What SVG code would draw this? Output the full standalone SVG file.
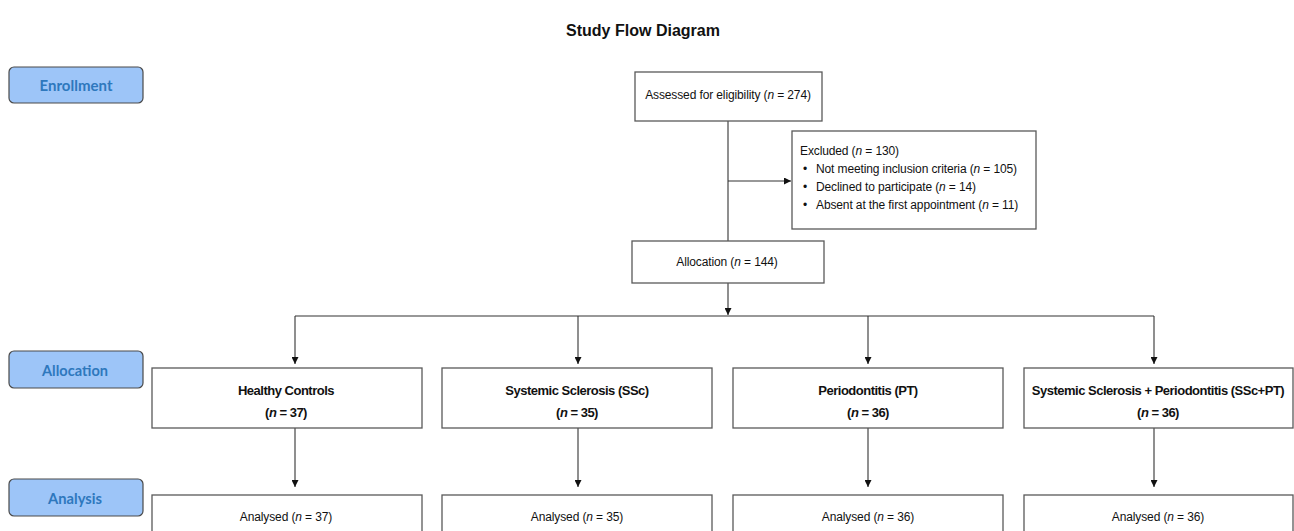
<svg xmlns="http://www.w3.org/2000/svg" width="1294" height="531" viewBox="0 0 1294 531">
<defs>
<marker id="ah" viewBox="0 0 10 10" refX="10" refY="5" markerWidth="7" markerHeight="7" markerUnits="userSpaceOnUse" orient="auto">
<path d="M0,0 L10,5 L0,10 z" fill="#111"/>
</marker>
</defs>
<style>
.box{fill:#fff;stroke:#595959;stroke-width:1.3}
.lbl{fill:#9dc5f8;stroke:#4a4a4a;stroke-width:1.2}
.lt{font-family:Lato,"Liberation Sans",sans-serif;font-weight:bold;font-size:16px;fill:#2e78bd;text-anchor:middle}
.t{font-family:"Liberation Sans",Arial,sans-serif;font-size:12px;letter-spacing:-0.12px;fill:#111}
.c{text-anchor:middle}
.b{font-weight:bold;font-size:13px;letter-spacing:-0.5px}
.title{font-family:"Liberation Sans",Arial,sans-serif;font-size:16px;font-weight:bold;fill:#111;text-anchor:middle}
.ln{fill:none;stroke:#333;stroke-width:1.1}
</style>
<text class="title" x="643" y="36" textLength="154" lengthAdjust="spacingAndGlyphs">Study Flow Diagram</text>

<g id="label-enrollment">
<rect class="lbl" x="9" y="67" width="134" height="36" rx="5"/>
<text class="lt" x="76" y="91" textLength="73" lengthAdjust="spacingAndGlyphs">Enrollment</text>
</g>
<g id="label-allocation">
<rect class="lbl" x="9" y="351" width="134" height="37" rx="5"/>
<text class="lt" x="75" y="376" textLength="66" lengthAdjust="spacingAndGlyphs">Allocation</text>
</g>
<g id="label-analysis">
<rect class="lbl" x="9" y="479" width="134" height="37" rx="5"/>
<text class="lt" x="75" y="504" textLength="54" lengthAdjust="spacingAndGlyphs">Analysis</text>
</g>

<g id="connectors">
<path class="ln" d="M728,121 V241"/>
<path class="ln" d="M728,181 H791" marker-end="url(#ah)"/>
<path class="ln" d="M728,283 V315" marker-end="url(#ah)"/>
<path class="ln" d="M295,316 H1154"/>
<path class="ln" d="M295,316 V364" marker-end="url(#ah)"/>
<path class="ln" d="M578,316 V364" marker-end="url(#ah)"/>
<path class="ln" d="M868,316 V364" marker-end="url(#ah)"/>
<path class="ln" d="M1154,316 V364" marker-end="url(#ah)"/>
<path class="ln" d="M295,428 V487" marker-end="url(#ah)"/>
<path class="ln" d="M578,428 V487" marker-end="url(#ah)"/>
<path class="ln" d="M868,428 V487" marker-end="url(#ah)"/>
<path class="ln" d="M1154,428 V487" marker-end="url(#ah)"/>
</g>

<g id="assessed">
<rect class="box" x="635" y="72" width="187" height="49"/>
<text class="t c" x="728" y="99">Assessed for eligibility (<tspan font-style="italic">n</tspan> = 274)</text>
</g>

<g id="excluded">
<rect class="box" x="792" y="131" width="244" height="98"/>
<text class="t" x="800" y="155">Excluded (<tspan font-style="italic">n</tspan> = 130)</text>
<text class="t" x="803" y="173">•</text>
<text class="t" x="816" y="173">Not meeting inclusion criteria (<tspan font-style="italic">n</tspan> = 105)</text>
<text class="t" x="803" y="191">•</text>
<text class="t" x="816" y="191">Declined to participate (<tspan font-style="italic">n</tspan> = 14)</text>
<text class="t" x="803" y="209">•</text>
<text class="t" x="816" y="209">Absent at the first appointment (<tspan font-style="italic">n</tspan> = 11)</text>
</g>

<g id="allocation">
<rect class="box" x="632" y="241" width="192" height="42"/>
<text class="t c" x="727" y="266">Allocation (<tspan font-style="italic">n</tspan> = 144)</text>
</g>

<g id="healthy">
<rect class="box" x="152" y="368" width="270" height="60"/>
<text class="t b c" x="286" y="395">Healthy Controls</text>
<text class="t b c" x="286" y="417">(<tspan font-style="italic">n</tspan> = 37)</text>
</g>
<g id="ssc">
<rect class="box" x="442" y="368" width="270" height="60"/>
<text class="t b c" x="577" y="395">Systemic Sclerosis (SSc)</text>
<text class="t b c" x="577" y="417">(<tspan font-style="italic">n</tspan> = 35)</text>
</g>
<g id="pt">
<rect class="box" x="733" y="368" width="270" height="60"/>
<text class="t b c" x="868" y="395">Periodontitis (PT)</text>
<text class="t b c" x="868" y="417">(<tspan font-style="italic">n</tspan> = 36)</text>
</g>
<g id="sscpt">
<rect class="box" x="1024" y="368" width="269" height="60"/>
<text class="t b c" x="1158" y="395">Systemic Sclerosis + Periodontitis (SSc+PT)</text>
<text class="t b c" x="1158" y="417">(<tspan font-style="italic">n</tspan> = 36)</text>
</g>

<g id="analysed-healthy">
<rect class="box" x="152" y="495" width="270" height="45"/>
<text class="t c" x="286" y="521">Analysed (<tspan font-style="italic">n</tspan> = 37)</text>
</g>
<g id="analysed-ssc">
<rect class="box" x="442" y="495" width="270" height="45"/>
<text class="t c" x="577" y="521">Analysed (<tspan font-style="italic">n</tspan> = 35)</text>
</g>
<g id="analysed-pt">
<rect class="box" x="733" y="495" width="270" height="45"/>
<text class="t c" x="868" y="521">Analysed (<tspan font-style="italic">n</tspan> = 36)</text>
</g>
<g id="analysed-sscpt">
<rect class="box" x="1024" y="495" width="269" height="45"/>
<text class="t c" x="1158" y="521">Analysed (<tspan font-style="italic">n</tspan> = 36)</text>
</g>
</svg>
